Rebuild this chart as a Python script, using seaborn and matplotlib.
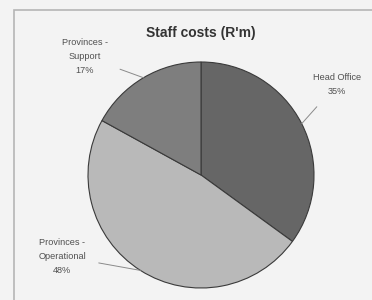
import matplotlib
matplotlib.use("Agg")
import matplotlib.pyplot as plt
import numpy as np
import seaborn as sns
from matplotlib.patches import Rectangle

# Data
labels = ["Head Office", "Provinces -\nOperational", "Provinces -\nSupport"]
shares = [35, 48, 17]
colours = ["#666666", "#b9b9b9", "#7e7e7e"]

# where each label sits (data units, pie radius = 1)
label_pos = [(1.20, 0.80), (-1.23, -0.72), (-1.03, 1.05)]

sns.set_theme(style="white")
plt.rcParams["font.family"] = ["Liberation Sans", "DejaVu Sans"]

fig = plt.figure(figsize=(3.72, 3.0), dpi=100)
fig.patch.set_facecolor("#f3f3f3")

# chart frame (runs off the right and bottom edges)
fig.patches.append(Rectangle((14 / 372, -0.1), 1.2, (300 - 10) / 300 + 0.1,
                             transform=fig.transFigure, fill=False,
                             edgecolor="#b5b5b5", linewidth=1.2))

r_px = 113
cx, cy = 201, 175
ax = fig.add_axes([(cx - r_px) / 372, (300 - cy - r_px) / 300, 2 * r_px / 372, 2 * r_px / 300])
ax.set_facecolor("none")

wedges, _ = ax.pie(shares, colors=colours, startangle=90, counterclock=False,
                   wedgeprops=dict(edgecolor="#3a3a3a", linewidth=0.8))
ax.set_xlim(-1, 1)
ax.set_ylim(-1, 1)
ax.set_aspect("auto")
ax.axis("off")

for w, lab, pct, (tx, ty) in zip(wedges, labels, shares, label_pos):
    mid = np.deg2rad((w.theta1 + w.theta2) / 2)
    ex, ey = np.cos(mid), np.sin(mid)
    ax.annotate(f"{lab}\n{pct}%", xy=(ex, ey), xytext=(tx, ty),
                ha="center", va="center", fontsize=6.6, color="#505050",
                linespacing=1.75, annotation_clip=False,
                arrowprops=dict(arrowstyle="-", color="#8a8a8a", lw=0.7,
                                shrinkA=7, shrinkB=0))

fig.text(cx / 372, 1 - 33 / 300, "Staff costs (R'm)", ha="center", va="center",
         fontsize=10, fontweight="bold", color="#333333")

fig.savefig("out.png", dpi=100, facecolor=fig.get_facecolor())
